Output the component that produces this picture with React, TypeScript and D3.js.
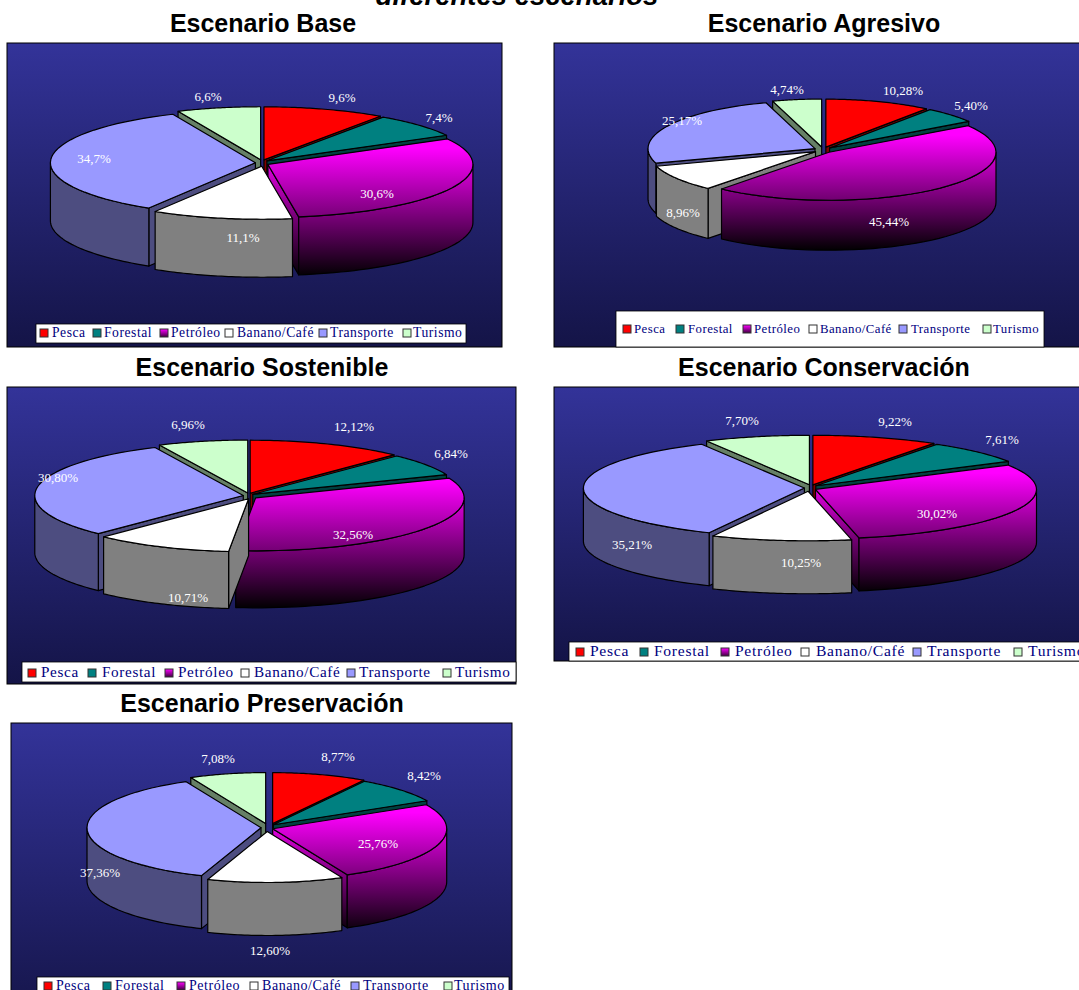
import React from 'react';
import * as d3 from 'd3';

// sectors, same order in every scenario
const categories = ['Pesca', 'Forestal', 'Petróleo', 'Banano/Café', 'Transporte', 'Turismo'];

const baseValues = [9.6, 7.4, 30.6, 11.1, 34.7, 6.6];
const agresivoValues = [10.28, 5.4, 45.44, 8.96, 25.17, 4.74];
const sostenibleValues = [12.12, 6.84, 32.56, 10.71, 30.8, 6.96];
const conservacionValues = [9.22, 7.61, 30.02, 10.25, 35.21, 7.7];
const preservacionValues = [8.77, 8.42, 25.76, 12.6, 37.36, 7.08];

const topColors = ['#ff0000', '#008080', 'url(#PET)', '#ffffff', '#9999ff', '#ccffcc'];
const sideColors = ['#800000', '#004040', 'url(#PET)', '#808080', '#4d4d80', '#668066'];

const panels = [
  {
    id: 'base', title: 'Escenario Base', titleX: 263, titleY: 32, values: baseValues, decimals: 1,
    frame: [7, 43, 495, 304], cx: 262, cy: 163, rx: 205, ry: 53, depth: 58, ex: 6.6, ey: 3.3, nudge: [0, 0, 0, 1, 0, 0],
    labels: [[342, 98], [439, 118], [377, 194], [243, 238], [94, 159], [208, 97]],
    legend: { box: [36, 324, 430, 19], base: 337, font: 13.6, spacing: 0.55, swatch: [40, 93, 160, 225, 319, 403], text: [52, 104, 171, 237, 330, 413] },
  },
  {
    id: 'agresivo', title: 'Escenario Agresivo', titleX: 824, titleY: 32, values: agresivoValues, decimals: 2,
    frame: [554, 43, 540, 304], cx: 823, cy: 150, rx: 167, ry: 48, depth: 50, ex: 9, ey: 3, nudge: [0, 0, 0, 0, 0, 0],
    labels: [[903, 91], [971, 106], [889, 222], [683, 213], [682, 121], [787, 90]],
    legend: { box: [616, 311, 428, 36], base: 333, font: 12.8, spacing: 0.45, swatch: [623, 676, 743, 809, 899, 983], text: [634, 688, 754, 820, 911, 993] },
  },
  {
    id: 'sostenible', title: 'Escenario Sostenible', titleX: 262, titleY: 376, values: sostenibleValues, decimals: 2,
    frame: [7, 387, 509, 297], cx: 248, cy: 496, rx: 208.5, ry: 53, depth: 57, ex: 5.8, ey: 3, nudge: [0, 0, 3, 3, 1, 1],
    labels: [[354, 427], [451, 454], [353, 535], [188, 598], [58, 478], [188, 425]],
    legend: { box: [22, 662, 494, 20], base: 677, font: 15.2, spacing: 0.65, swatch: [28, 88, 165, 241, 347, 443], text: [41, 102, 178, 254, 359, 455] },
  },
  {
    id: 'conservacion', title: 'Escenario Conservación', titleX: 824, titleY: 376, values: conservacionValues, decimals: 2,
    frame: [554, 387, 540, 274], cx: 811, cy: 488, rx: 221, ry: 49.5, depth: 53, ex: 6.6, ey: 3.3, nudge: [0, 0, -1.5, -2, 0, 0],
    labels: [[895, 422], [1002, 440], [937, 514], [801, 563], [632, 545], [742, 421]],
    legend: { box: [569, 642, 530, 19], base: 656, font: 15.6, spacing: 0.7, swatch: [576, 640, 721, 801, 913, 1014], text: [590, 654, 735, 816, 927, 1028] },
  },
  {
    id: 'preservacion', title: 'Escenario Preservación', titleX: 262, titleY: 712, values: preservacionValues, decimals: 2,
    frame: [11, 723, 501, 304], cx: 267, cy: 827.5, rx: 174, ry: 51, depth: 53, ex: 6, ey: 4, nudge: [4, 2, 0, 0, 0, 0],
    labels: [[338, 757], [424, 776], [378, 844], [270, 951], [100, 873], [218, 759]],
    legend: { box: [37, 977, 472, 30], base: 990, font: 14, spacing: 0.55, swatch: [44, 103, 177, 250, 351, 444], text: [56, 115, 189, 262, 363, 454] },
  },
];

const pieGen = d3.pie<number>().sort(null).value(d => d).startAngle(0).endAngle(2 * Math.PI);

const PiePanel = ({ p }: { p: (typeof panels)[number] }) => {
  const x = d3.scaleLinear().domain([-1, 1]).range([p.cx - p.rx, p.cx + p.rx]);
  const y = d3.scaleLinear().domain([-1, 1]).range([p.cy - p.ry, p.cy + p.ry]);
  const line = d3.line();
  const petId = `pet-${p.id}`;
  const fix = (c: string) => c.replace('PET', petId);

  const slices = pieGen(p.values).map((s, i) => {
    const mid = (s.startAngle + s.endAngle) / 2;
    return { ...s, i, mid, dx: Math.sin(mid) * p.ex + p.nudge[i], dy: -Math.cos(mid) * p.ey };
  });
  // back slices first, so the front ones paint over them
  const ordered = [...slices].sort((a, b) => Math.cos(b.mid) - Math.cos(a.mid));

  return (
    <g>
      <defs>
        <linearGradient id={`bg-${p.id}`} x1="0" y1="0" x2="0" y2="1">
          <stop offset="0" stopColor="#333399" />
          <stop offset="1" stopColor="#141447" />
        </linearGradient>
        <linearGradient id={petId} gradientUnits="userSpaceOnUse" x1="0" x2="0" y1={p.cy - 15} y2={p.cy + p.ry + p.depth + p.ey}>
          <stop offset="0" stopColor="#ff00ff" />
          <stop offset="1" stopColor="#000000" />
        </linearGradient>
        <linearGradient id={`sw-${p.id}`} x1="0" y1="0" x2="0" y2="1">
          <stop offset="0" stopColor="#ff00ff" />
          <stop offset="1" stopColor="#400040" />
        </linearGradient>
      </defs>
      <rect x={p.frame[0]} y={p.frame[1]} width={p.frame[2]} height={p.frame[3]} fill={`url(#bg-${p.id})`} stroke="#000" strokeWidth={1} />

      {ordered.map(s => {
        const pt = (a: number, drop = 0): [number, number] => [
          x(Math.sin(a)) + s.dx,
          y(-Math.cos(a)) + s.dy + drop,
        ];
        const centre: [number, number] = [p.cx + s.dx, p.cy + s.dy];
        const centreLow: [number, number] = [centre[0], centre[1] + p.depth];
        const arcPts = (a0: number, a1: number, drop = 0) =>
          d3.range(0, 41).map(k => pt(a0 + ((a1 - a0) * k) / 40, drop));

        // outer wall: only the part on the viewer's side
        const w0 = Math.max(s.startAngle, Math.PI / 2);
        const w1 = Math.min(s.endAngle, (3 * Math.PI) / 2);
        const outer = w1 > w0 ? line([...arcPts(w0, w1), ...arcPts(w1, w0, p.depth)]) + 'Z' : null;

        // radial walls facing the viewer
        const startWall = Math.sin(s.startAngle) < -1e-6
          ? line([centre, pt(s.startAngle), pt(s.startAngle, p.depth), centreLow]) + 'Z' : null;
        const endWall = Math.sin(s.endAngle) > 1e-6
          ? line([centre, pt(s.endAngle), pt(s.endAngle, p.depth), centreLow]) + 'Z' : null;
        const top = line([centre, ...arcPts(s.startAngle, s.endAngle)]) + 'Z';

        const side = fix(sideColors[s.i]);
        return (
          <g key={s.i} stroke="#000" strokeWidth={1.2} strokeLinejoin="round">
            {startWall && <path d={startWall} fill={side} />}
            {endWall && <path d={endWall} fill={side} />}
            {outer && <path d={outer} fill={side} />}
            <path d={top} fill={fix(topColors[s.i])} />
          </g>
        );
      })}

      {p.values.map((v, i) => (
        <text key={i} x={p.labels[i][0]} y={p.labels[i][1] - 1} dy="0.35em" textAnchor="middle" fill="#fff"
          fontFamily="'Liberation Serif', serif" fontSize={13}>
          {v.toFixed(p.decimals).replace('.', ',')}%
        </text>
      ))}

      <rect x={p.legend.box[0]} y={p.legend.box[1]} width={p.legend.box[2]} height={p.legend.box[3]} fill="#fff" stroke="#000" strokeWidth={0.8} />
      {categories.map((c, i) => (
        <g key={c}>
          <rect x={p.legend.swatch[i]} y={p.legend.base - 8} width={8} height={8}
            fill={i === 2 ? `url(#sw-${p.id})` : topColors[i]} stroke="#333" strokeWidth={1} />
          <text x={p.legend.text[i]} y={p.legend.base} fill="#000080" fontFamily="'Liberation Serif', serif"
            fontSize={p.legend.font} letterSpacing={p.legend.spacing}>{c}</text>
        </g>
      ))}

      <text x={p.titleX} y={p.titleY} textAnchor="middle" fontFamily="'Liberation Sans', Arial, sans-serif"
        fontWeight="bold" fontSize={25} fill="#000">{p.title}</text>
    </g>
  );
};

const App: React.FC = () => (
  <svg width={1079} height={990} viewBox="0 0 1079 990"
    style={{ position: 'absolute', left: 0, top: 0, display: 'block', background: '#fff' }}>
    <text x={517} y={5} textAnchor="middle" fontFamily="'Liberation Sans', Arial, sans-serif"
      fontWeight="bold" fontStyle="italic" fontSize={27.5} fill="#000">diferentes escenarios</text>
    {panels.map(p => <PiePanel key={p.id} p={p} />)}
  </svg>
);

export default App;
